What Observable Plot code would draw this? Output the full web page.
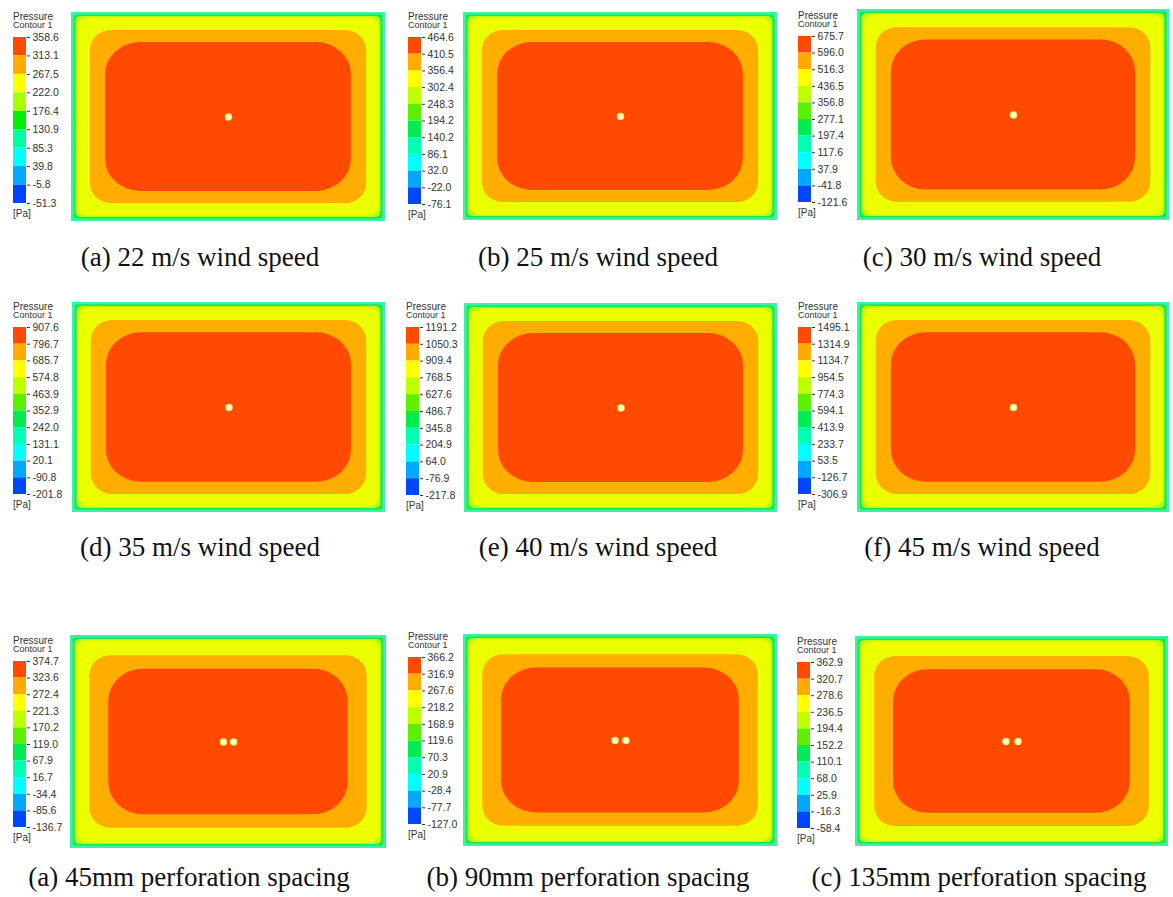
<!DOCTYPE html>
<html>
<head>
<meta charset="utf-8">
<script src="https://cdn.jsdelivr.net/npm/d3@7"></script>
<script src="https://cdn.jsdelivr.net/npm/@observablehq/plot@0.6"></script>
<style>
  body { margin: 0; background: #fff; }
  #fig { position: relative; width: 1173px; height: 897px; overflow: hidden; background: #fff; }
  .abs { position: absolute; }
  .abs svg { display: block; max-width: none; }
  .lg { font-family: "Liberation Sans", Arial, sans-serif; color: #333; white-space: nowrap; line-height: 10px; }
  .cap { font-family: "Liberation Serif", "Times New Roman", serif; font-size: 27px; line-height: 27px;
         color: #111; white-space: nowrap; transform: translateX(-50%); }
</style>
</head>
<body>
<div id="fig"></div>
<script>
// ---- Panel captions ----
const captions = [
  "(a) 22 m/s wind speed", "(b) 25 m/s wind speed", "(c) 30 m/s wind speed",
  "(d) 35 m/s wind speed", "(e) 40 m/s wind speed", "(f) 45 m/s wind speed",
  "(a) 45mm perforation spacing", "(b) 90mm perforation spacing", "(c) 135mm perforation spacing"
];

// ---- Contour legend levels [Pa], top to bottom ----
const levels22 = [358.6, 313.1, 267.5, 222.0, 176.4, 130.9, 85.3, 39.8, -5.8, -51.3];
const levels25 = [464.6, 410.5, 356.4, 302.4, 248.3, 194.2, 140.2, 86.1, 32.0, -22.0, -76.1];
const levels30 = [675.7, 596.0, 516.3, 436.5, 356.8, 277.1, 197.4, 117.6, 37.9, -41.8, -121.6];
const levels35 = [907.6, 796.7, 685.7, 574.8, 463.9, 352.9, 242.0, 131.1, 20.1, -90.8, -201.8];
const levels40 = [1191.2, 1050.3, 909.4, 768.5, 627.6, 486.7, 345.8, 204.9, 64.0, -76.9, -217.8];
const levels45 = [1495.1, 1314.9, 1134.7, 954.5, 774.3, 594.1, 413.9, 233.7, 53.5, -126.7, -306.9];
const levelsS45 = [374.7, 323.6, 272.4, 221.3, 170.2, 119.0, 67.9, 16.7, -34.4, -85.6, -136.7];
const levelsS90 = [366.2, 316.9, 267.6, 218.2, 168.9, 119.6, 70.3, 20.9, -28.4, -77.7, -127.0];
const levelsS135 = [362.9, 320.7, 278.6, 236.5, 194.4, 152.2, 110.1, 68.0, 25.9, -16.3, -58.4];

// ---- Plate (mm) and contour band boundaries, as insets from the plate edge ----
const PLATE_W = 1500, PLATE_H = 1000;
// outer -> inner: edge, green, yellow-green, yellow, orange, red
const windBandInsetX = [0, 13, 22, 30, 90, 163];
const windBandInsetY = [0, 12, 19, 25, 86, 144];
const spacingBandInsetX = [0, 13, 22, 30, 92, 182];
const spacingBandInsetY = [0, 12, 19, 25, 95, 158];

// ---- Perforation centres (mm) ----
const holeSingleX = [750];
const holesS45X = [726, 774];
const holesS90X = [724, 776];
const holesS135X = [721, 779];
const holeY = 500;

// ---- Styles ----
const palette9 = ["#ff4a00", "#ffab00", "#ffff00", "#a8ff00", "#00f000", "#00ffa0", "#00ffff", "#00aaff", "#0044ff"];
const palette10 = ["#ff4a00", "#ffab00", "#ffff00", "#c0ff00", "#5cf000", "#00ec50", "#00ffb0", "#00ffff", "#00a8ff", "#0046ff"];
const bandColors = ["#3cf0a6", "#18e84a", "#b4ff14", "#ecff00", "#ffae00", "#ff4a00"];
const bandRx = [0, 2, 5, 10, 21, 35];
const bandRy = [0, 2, 5, 10, 20, 32];

// ---- Layout (px) ----
const layout = [
  {lx: 13,  bt: 37,  bb: 203, px: 71,  py: 12,  pw: 314, ph: 209, cx: 200, by: 267},
  {lx: 408, bt: 37,  bb: 204, px: 463, py: 12,  pw: 314, ph: 208, cx: 598, by: 267},
  {lx: 798, bt: 36,  bb: 202, px: 857, py: 9,   pw: 312, ph: 211, cx: 982, by: 267},
  {lx: 13,  bt: 327, bb: 494, px: 72,  py: 302, pw: 313, ph: 210, cx: 200, by: 557},
  {lx: 406, bt: 327, bb: 495, px: 464, py: 303, pw: 313, ph: 209, cx: 598, by: 557},
  {lx: 798, bt: 327, bb: 494, px: 857, py: 302, pw: 312, ph: 210, cx: 982, by: 557},
  {lx: 13,  bt: 661, bb: 827, px: 70,  py: 635, pw: 316, ph: 213, cx: 189, by: 887},
  {lx: 408, bt: 657, bb: 824, px: 463, py: 634, pw: 314, ph: 212, cx: 588, by: 887},
  {lx: 797, bt: 662, bb: 828, px: 855, py: 636, pw: 313, ph: 210, cx: 979, by: 887}
];

const wind = {ix: windBandInsetX, iy: windBandInsetY};
const spacing = {ix: spacingBandInsetX, iy: spacingBandInsetY};
const panels = [
  {levels: levels22, bands: wind, holes: holeSingleX},
  {levels: levels25, bands: wind, holes: holeSingleX},
  {levels: levels30, bands: wind, holes: holeSingleX},
  {levels: levels35, bands: wind, holes: holeSingleX},
  {levels: levels40, bands: wind, holes: holeSingleX},
  {levels: levels45, bands: wind, holes: holeSingleX},
  {levels: levelsS45, bands: spacing, holes: holesS45X},
  {levels: levelsS90, bands: spacing, holes: holesS90X},
  {levels: levelsS135, bands: spacing, holes: holesS135X}
];

const fig = document.getElementById("fig");

function place(node, left, top, cls) {
  const div = document.createElement("div");
  div.className = "abs" + (cls ? " " + cls : "");
  div.style.left = left + "px";
  div.style.top = top + "px";
  if (typeof node === "string") div.textContent = node; else div.appendChild(node);
  fig.appendChild(div);
  return div;
}

// Colour bar with level ticks on its right
function legendBar(levels, barH) {
  const n = levels.length - 1;
  const bins = d3.range(n).map(k => ({k, hi: levels[k], lo: levels[k + 1]}));
  return Plot.plot({
    width: 64, height: barH + 12,
    marginLeft: 0, marginRight: 51, marginTop: 6, marginBottom: 6,
    style: {fontFamily: "Liberation Sans, Arial, sans-serif", fontSize: "10.5px", color: "#333", background: "transparent"},
    y: {domain: [levels[n], levels[0]], ticks: levels, tickFormat: d => d.toFixed(1),
        tickSize: 3, tickPadding: 3, axis: "right", label: null},
    color: {type: "ordinal", domain: d3.range(n), range: n === 9 ? palette9 : palette10},
    marks: [Plot.rect(bins, {y1: "lo", y2: "hi", fill: "k"})]
  });
}

// Pressure bands on the plate, drawn as nested rounded regions
function plateContour(bands, holesX, w, h) {
  const regions = bands.ix.map((ix, i) => ({ix, iy: bands.iy[i]}));
  return Plot.plot({
    width: w, height: h, margin: 0,
    style: {background: "transparent"},
    x: {domain: [0, PLATE_W], axis: null},
    y: {domain: [0, PLATE_H], axis: null},
    marks: [
      ...regions.map((r, i) => Plot.rect([r], {
        x1: d => d.ix, x2: d => PLATE_W - d.ix,
        y1: d => d.iy, y2: d => PLATE_H - d.iy,
        fill: bandColors[i], rx: bandRx[i], ry: bandRy[i]
      })),
      Plot.dot(holesX.map(x => ({x, y: holeY})), {
        x: "x", y: "y", r: 3, fill: "white", stroke: "#f4f25c", strokeWidth: 1.5
      })
    ]
  });
}

panels.forEach((p, i) => {
  const L = layout[i];
  place(plateContour(p.bands, p.holes, L.pw, L.ph), L.px, L.py);
  place(legendBar(p.levels, L.bb - L.bt), L.lx, L.bt - 6);
  const t1 = place("Pressure", L.lx, L.bt - 25.5, "lg"); t1.style.fontSize = "10px";
  const t2 = place("Contour 1", L.lx, L.bt - 17, "lg"); t2.style.fontSize = "9px";
  const t3 = place("[Pa]", L.lx, L.bb + 6, "lg"); t3.style.fontSize = "10px";
  place(captions[i], L.cx, L.by - 23, "cap");
});
</script>
</body>
</html>
